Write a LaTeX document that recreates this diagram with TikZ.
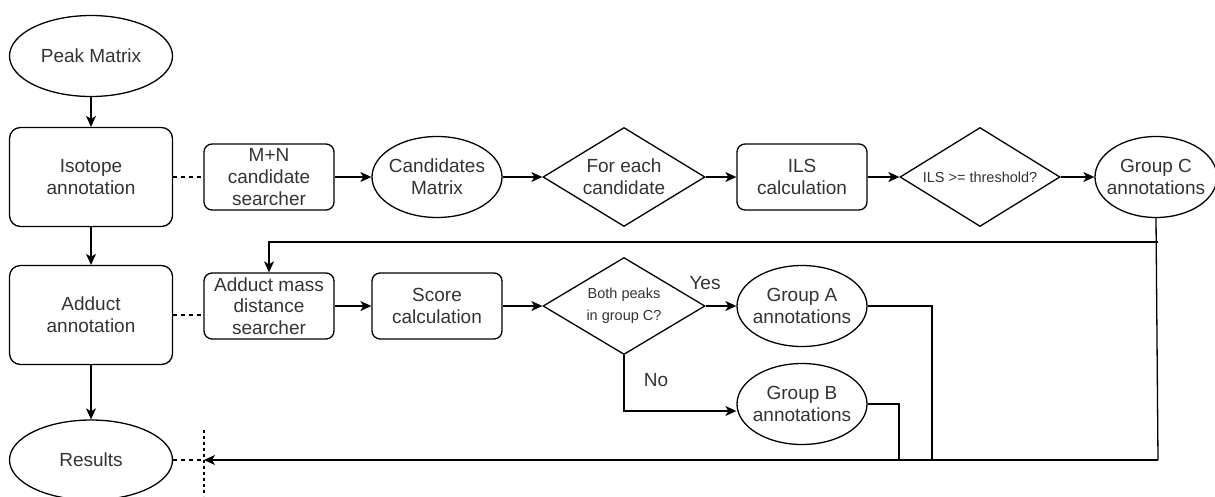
\documentclass[tikz,border=0pt]{standalone}
\usepackage{fontspec}
\setmainfont{Liberation Sans}
\usetikzlibrary{shapes.geometric,arrows.meta}
\definecolor{txt}{HTML}{333333}
\begin{document}
\begin{tikzpicture}[x=1pt,y=-1pt,
  every node/.style={font=\fontsize{19}{21.7}\selectfont, text=txt, align=center, inner sep=0pt, line width=1.3pt},
  bigbox/.style={draw, rounded corners=11pt, minimum width=163pt, minimum height=99pt},
  smallbox/.style={draw, rounded corners=8pt, minimum width=130pt, minimum height=66pt},
  ell/.style={draw, ellipse, minimum width=#1, minimum height=81pt},
  dia/.style={draw, diamond, aspect=1.63, minimum width=162pt, minimum height=99pt},
  arr/.style={line width=1.3pt, -{Stealth[length=11pt,width=10pt,inset=3pt]}},
  ln/.style={line width=1.3pt},
  dsh/.style={line width=1.3pt, dash pattern=on 4pt off 4pt},
  small/.style={font=\fontsize{14.5}{22}\selectfont}
]
\useasboundingbox (0,0) rectangle (1215,496);

% left column
\node[ell=163pt] (pm) at (91,56) {};
\node at (pm.center) {Peak Matrix};
\node[bigbox] (iso) at (91,177) {Isotope\\annotation};
\node[bigbox] (add) at (91,315) {Adduct\\annotation};
\node[ell=163pt, minimum height=80pt] (res) at (91,460) {};
\node at (res.center) {Results};

% isotope row
\node[smallbox] (mn) at (269,177) {M+N\\candidate\\searcher};
\node[ell=130pt] (cm) at (437,177) {};
\node at (cm.center) {Candidates\\Matrix};
\node[dia] (fe) at (624,177) {};
\node at (fe.center) {For each\\candidate};
\node[smallbox] (ils) at (802,177) {ILS\\calculation};
\node[dia, minimum width=160pt] (thr) at (980,177) {};
\node[small] at (thr.center) {ILS >= threshold?};
\node[ell=122pt] (gc) at (1156,177) {};
\node at (gc.center) {Group C\\annotations};

% adduct row
\node[smallbox] (ams) at (269,306) {Adduct mass\\distance\\searcher};
\node[smallbox] (sc) at (437,306) {Score\\calculation};
\node[dia, minimum height=97pt] (bp) at (624,306) {};
\node[small] at (bp.center) {Both peaks\\in group C?};
\node[ell=130pt] (ga) at (802,306) {};
\node at (ga.center) {Group A\\annotations};
\node[ell=130pt] (gb) at (802,404) {};
\node at (gb.center) {Group B\\annotations};

% labels
\node (yes) at (705,283) {Yes};
\node (no) at (656,380) {No};

% coordinates
\coordinate (ra) at (204,460);
\coordinate (rt) at (204,430);
\coordinate (rbm) at (204,496);
\coordinate (jc) at (1158,242);
\coordinate (gcb) at (1158,460);
\coordinate (gax) at (932,460);
\coordinate (gbx) at (899,460);

% left column arrows
\draw[arr] (pm) -- (iso);
\draw[arr] (iso) -- (add);
\draw[arr] (add) -- (res);

% dashed links
\draw[dsh] (iso.east) -- (mn.west);
\draw[dsh] (add.east) -- (add.east -| ams.west);
\draw[dsh] (res.east) -- (ra);
\draw[ln, dash pattern=on 3pt off 3pt] (rt) -- (rbm);

% isotope row flow
\draw[arr] (mn) -- (cm);
\draw[arr] (cm) -- (fe);
\draw[arr] (fe) -- (ils);
\draw[arr] (ils) -- (thr);
\draw[arr] (thr) -- (gc);

% feedback lines
\draw[ln] (gc.south) -- (gcb);
\draw[arr] (gcb) -- (ra);
\draw[arr] (jc) -| (ams.north);

% adduct row flow
\draw[arr] (ams) -- (sc);
\draw[arr] (sc) -- (bp);
\draw[arr] (bp) -- (ga);
\draw[arr] (bp.south) |- ([yshift=-7pt]gb.west);
\draw[ln] (ga.east) -| (gax);
\draw[ln] (gb.east) -| (gbx);
\end{tikzpicture}
\end{document}
